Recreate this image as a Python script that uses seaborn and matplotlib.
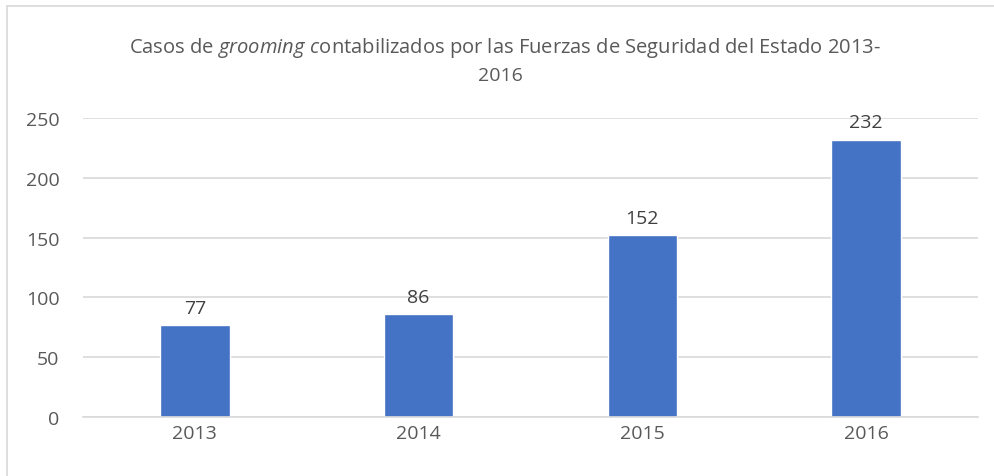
import matplotlib.pyplot as plt
import pandas as pd
import seaborn as sns
from matplotlib.lines import Line2D

years = ["2013", "2014", "2015", "2016"]
cases = [77, 86, 152, 232]
y_ticks = [0, 50, 100, 150, 200, 250]

title_line1 = r"Casos de $\mathit{grooming\ c}$ontabilizados por las Fuerzas de Seguridad del Estado 2013-"
title_line2 = "2016"

text_color = "#595959"
grid_color = "#d9d9d9"
bar_color = "#4472c4"

sns.set_theme(style="white")
plt.rcParams["font.family"] = ["Open Sans", "DejaVu Sans"]
plt.rcParams["mathtext.fontset"] = "custom"
plt.rcParams["mathtext.rm"] = "Open Sans"
plt.rcParams["mathtext.it"] = "Open Sans:italic"

df = pd.DataFrame({"year": years, "cases": cases})

fig = plt.figure(figsize=(9.95, 4.77), dpi=100)
ax = fig.add_axes([0.0834, 0.1237, 0.8995, 0.6268])

sns.barplot(data=df, x="year", y="cases", color=bar_color, saturation=1,
            width=0.31, ax=ax)

ax.set_ylim(0, 250)
ax.set_yticks(y_ticks)
ax.yaxis.grid(True, color=grid_color, linewidth=1.2)
ax.set_axisbelow(True)
for side in ["top", "right", "left"]:
    ax.spines[side].set_visible(False)
ax.spines["bottom"].set_color(grid_color)
ax.spines["bottom"].set_linewidth(1.2)
ax.set_xlabel("")
ax.set_ylabel("")
ax.tick_params(axis="y", labelsize=14, labelcolor=text_color, length=0, pad=17)
ax.tick_params(axis="x", labelsize=14, labelcolor=text_color, length=0, pad=5)

for c in ax.containers:
    ax.bar_label(c, labels=[str(v) for v in cases], padding=6,
                 fontsize=14, color="#404040")

fig.text(0.507, 0.90, title_line1, ha="center", va="center",
         fontsize=14.5, color=text_color)
fig.text(0.503, 0.84, title_line2, ha="center", va="center",
         fontsize=14, color=text_color)

# chart frame (left and top edge visible in the crop)
fig.add_artist(Line2D([0.0075, 0.0075], [0, 0.985], color=grid_color,
                      linewidth=1.2, transform=fig.transFigure))
fig.add_artist(Line2D([0.0075, 1], [0.985, 0.985], color=grid_color,
                      linewidth=1.2, transform=fig.transFigure))

fig.savefig("out.png", dpi=100)
